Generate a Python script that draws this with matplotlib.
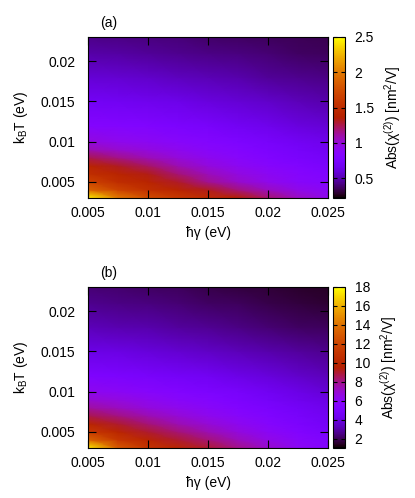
import matplotlib
matplotlib.use("Agg")
import matplotlib.pyplot as plt
import numpy as np
from matplotlib.ticker import FixedLocator, FuncFormatter

plt.rcParams["font.family"] = ["Liberation Sans", "DejaVu Sans"]
plt.rcParams["font.size"] = 10
plt.rcParams["mathtext.fontset"] = "custom"
plt.rcParams["mathtext.rm"] = "Liberation Sans"
plt.rcParams["mathtext.it"] = "Liberation Sans:italic"

# hbar*gamma (eV), columns of the grid
gamma_ev = [0.005, 0.0075, 0.01, 0.0125, 0.015, 0.0175, 0.02, 0.0225, 0.025]
# k_B T (eV), rows of the grid
kt_ev = [0.003, 0.004, 0.005, 0.006, 0.007, 0.008, 0.009, 0.010,
         0.012, 0.015, 0.018, 0.021, 0.023]

# |chi(2)| in nm^2/V, panel (a)
chi2_a = [
    [2.45, 2.00, 1.75, 1.60, 1.48, 1.36, 1.20, 1.05, 0.93],
    [1.90, 1.68, 1.52, 1.42, 1.32, 1.18, 1.05, 0.95, 0.88],
    [1.68, 1.50, 1.42, 1.30, 1.14, 1.03, 0.94, 0.87, 0.82],
    [1.52, 1.42, 1.33, 1.19, 1.06, 0.97, 0.90, 0.84, 0.79],
    [1.42, 1.31, 1.21, 1.08, 0.98, 0.91, 0.85, 0.80, 0.75],
    [1.25, 1.16, 1.07, 0.99, 0.92, 0.86, 0.80, 0.75, 0.71],
    [1.08, 1.02, 0.97, 0.92, 0.87, 0.82, 0.77, 0.72, 0.68],
    [0.97, 0.93, 0.90, 0.86, 0.82, 0.78, 0.73, 0.69, 0.65],
    [0.83, 0.81, 0.79, 0.76, 0.73, 0.69, 0.65, 0.61, 0.58],
    [0.70, 0.68, 0.66, 0.64, 0.61, 0.58, 0.55, 0.52, 0.49],
    [0.58, 0.57, 0.55, 0.53, 0.51, 0.49, 0.46, 0.44, 0.42],
    [0.48, 0.47, 0.46, 0.44, 0.42, 0.41, 0.39, 0.37, 0.36],
    [0.43, 0.42, 0.41, 0.40, 0.38, 0.37, 0.36, 0.35, 0.34],
]

# |chi(2)| in nm^2/V, panel (b)
chi2_b = [
    [17.5, 13.0, 11.0, 9.9, 9.0, 8.0, 7.0, 6.1, 5.4],
    [13.5, 11.2, 9.9, 9.0, 8.2, 7.3, 6.5, 5.8, 5.2],
    [11.3, 10.0, 9.0, 8.2, 7.4, 6.7, 6.0, 5.4, 4.9],
    [9.9, 9.0, 8.2, 7.4, 6.8, 6.2, 5.6, 5.1, 4.6],
    [8.7, 8.1, 7.4, 6.8, 6.3, 5.8, 5.3, 4.8, 4.4],
    [7.7, 7.2, 6.7, 6.3, 5.9, 5.4, 5.0, 4.6, 4.2],
    [6.9, 6.6, 6.2, 5.8, 5.5, 5.1, 4.7, 4.3, 4.0],
    [6.2, 6.0, 5.7, 5.4, 5.1, 4.8, 4.4, 4.1, 3.7],
    [5.2, 5.0, 4.8, 4.6, 4.4, 4.1, 3.8, 3.5, 3.2],
    [4.1, 4.0, 3.8, 3.6, 3.4, 3.2, 3.0, 2.8, 2.6],
    [3.2, 3.1, 3.0, 2.8, 2.7, 2.5, 2.3, 2.1, 2.0],
    [2.6, 2.5, 2.4, 2.3, 2.1, 2.0, 1.8, 1.7, 1.55],
    [2.3, 2.2, 2.1, 2.0, 1.85, 1.7, 1.6, 1.5, 1.4],
]

x_ticks = [0.005, 0.01, 0.015, 0.02, 0.025]
y_ticks = [0.005, 0.01, 0.015, 0.02]
cb_ticks_a = [0.5, 1, 1.5, 2, 2.5]
cb_ticks_b = [2, 4, 6, 8, 10, 12, 14, 16, 18]

gfmt = FuncFormatter(lambda v, pos: f"{v:g}")

W, H = 415, 498
fig = plt.figure(figsize=(W / 100, H / 100), dpi=100)


def panel(top, data, vmin, vmax, cb_ticks, tag):
    # pixel boxes -> figure fractions
    ax = fig.add_axes([88 / W, 1 - (top + 161) / H, 240 / W, 161 / H])
    cax = fig.add_axes([333 / W, 1 - (top + 161) / H, 12 / W, 161 / H])

    mesh = ax.pcolormesh(gamma_ev, kt_ev, np.array(data), cmap="gnuplot",
                         vmin=vmin, vmax=vmax, shading="gouraud")
    ax.set_xlim(0.005, 0.025)
    ax.set_ylim(0.003, 0.023)
    ax.xaxis.set_major_locator(FixedLocator(x_ticks))
    ax.yaxis.set_major_locator(FixedLocator(y_ticks))
    ax.xaxis.set_major_formatter(gfmt)
    ax.yaxis.set_major_formatter(gfmt)
    ax.tick_params(direction="in", length=6, width=0.8, top=True, right=True,
                   labelsize=10)
    ax.tick_params(axis="y", pad=9)
    ax.tick_params(axis="x", pad=6)
    for s in ax.spines.values():
        s.set_linewidth(0.8)

    ax.set_xlabel("ħγ (eV)", labelpad=4)
    ax.set_ylabel(r"k$_\mathrm{B}$T (eV)", labelpad=8)
    ax.text(100 / W, 1 - (top - 14) / H, tag, transform=fig.transFigure,
            fontsize=10, va="center")

    cb = fig.colorbar(mesh, cax=cax)
    cb.set_ticks(cb_ticks)
    cb.ax.yaxis.set_major_formatter(gfmt)
    cb.ax.tick_params(direction="in", length=3, width=0.8, left=True,
                      right=True, labelsize=10, pad=7)
    cb.outline.set_linewidth(0.8)
    cb.set_label(r"Abs(χ$^{(2)}$) [nm$^2$/V]", labelpad=6)
    return ax


panel(37, chi2_a, 0.22, 2.5, cb_ticks_a, "(a)")
panel(287, chi2_b, 1.0, 18.0, cb_ticks_b, "(b)")

fig.savefig("out.png", dpi=100)
